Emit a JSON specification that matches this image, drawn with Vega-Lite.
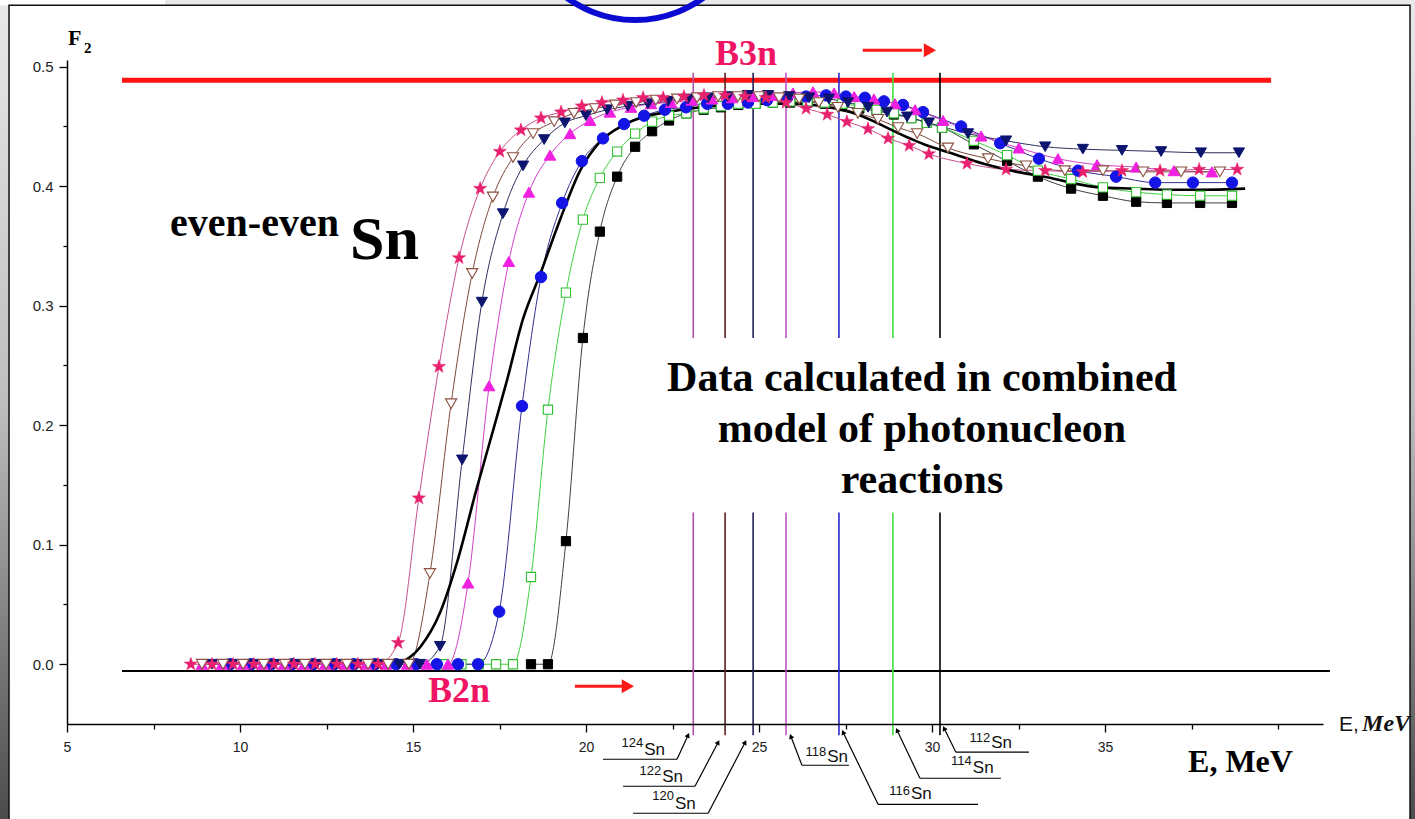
{
  "$schema": "https://vega.github.io/schema/vega-lite/v6.json",
  "width": 1256,
  "height": 664,
  "autosize": {"type": "none"},
  "padding": {"left": 67, "top": 60, "right": 92, "bottom": 95},
  "background": "#ffffff",
  "config": {
    "view": {"stroke": null},
    "axis": {"grid": false, "domainColor": "#000000", "domainWidth": 1.5, "tickColor": "#000000", "tickWidth": 1.3, "labelFont": "Liberation Sans", "labelFontSize": 14, "labelColor": "#222222", "title": null, "labelFlush": false, "labelOverlap": false}
  },
  "datasets": {
    "pts": [
      {"s":"112Sn","E":18.41,"F":0},{"s":"112Sn","E":18.90,"F":0},{"s":"112Sn","E":19.42,"F":0.103},{"s":"112Sn","E":19.91,"F":0.273},{"s":"112Sn","E":20.40,"F":0.362},{"s":"112Sn","E":20.90,"F":0.408},{"s":"112Sn","E":21.42,"F":0.433},{"s":"112Sn","E":21.91,"F":0.446},{"s":"112Sn","E":22.40,"F":0.455},{"s":"112Sn","E":22.90,"F":0.461},{"s":"112Sn","E":23.40,"F":0.464},{"s":"112Sn","E":23.90,"F":0.466},{"s":"112Sn","E":24.40,"F":0.468},{"s":"112Sn","E":24.90,"F":0.469},{"s":"112Sn","E":25.40,"F":0.470},{"s":"112Sn","E":25.90,"F":0.470},{"s":"112Sn","E":26.40,"F":0.470},{"s":"112Sn","E":26.90,"F":0.469},{"s":"112Sn","E":27.40,"F":0.467},{"s":"112Sn","E":27.90,"F":0.465},{"s":"112Sn","E":28.40,"F":0.463},{"s":"112Sn","E":28.90,"F":0.460},{"s":"112Sn","E":29.40,"F":0.457},{"s":"112Sn","E":29.85,"F":0.453},{"s":"112Sn","E":30.29,"F":0.449},{"s":"112Sn","E":31.21,"F":0.435},{"s":"112Sn","E":32.17,"F":0.421},{"s":"112Sn","E":33.06,"F":0.408},{"s":"112Sn","E":34.02,"F":0.398},{"s":"112Sn","E":34.94,"F":0.392},{"s":"112Sn","E":35.90,"F":0.387},{"s":"112Sn","E":36.79,"F":0.386},{"s":"112Sn","E":37.75,"F":0.386},{"s":"112Sn","E":38.67,"F":0.386},
      {"s":"114Sn","E":15.90,"F":0},{"s":"114Sn","E":16.40,"F":0},{"s":"114Sn","E":16.90,"F":0},{"s":"114Sn","E":17.40,"F":0},{"s":"114Sn","E":17.89,"F":0},{"s":"114Sn","E":18.41,"F":0.073},{"s":"114Sn","E":18.90,"F":0.213},{"s":"114Sn","E":19.42,"F":0.311},{"s":"114Sn","E":19.91,"F":0.372},{"s":"114Sn","E":20.40,"F":0.407},{"s":"114Sn","E":20.90,"F":0.429},{"s":"114Sn","E":21.42,"F":0.444},{"s":"114Sn","E":21.91,"F":0.454},{"s":"114Sn","E":22.40,"F":0.459},{"s":"114Sn","E":22.90,"F":0.461},{"s":"114Sn","E":23.40,"F":0.465},{"s":"114Sn","E":23.90,"F":0.467},{"s":"114Sn","E":24.40,"F":0.469},{"s":"114Sn","E":24.90,"F":0.469},{"s":"114Sn","E":25.40,"F":0.470},{"s":"114Sn","E":25.90,"F":0.471},{"s":"114Sn","E":26.40,"F":0.471},{"s":"114Sn","E":26.90,"F":0.470},{"s":"114Sn","E":27.40,"F":0.469},{"s":"114Sn","E":27.90,"F":0.467},{"s":"114Sn","E":28.40,"F":0.464},{"s":"114Sn","E":28.90,"F":0.461},{"s":"114Sn","E":29.40,"F":0.457},{"s":"114Sn","E":29.85,"F":0.453},{"s":"114Sn","E":30.29,"F":0.449},{"s":"114Sn","E":31.21,"F":0.438},{"s":"114Sn","E":32.17,"F":0.426},{"s":"114Sn","E":33.06,"F":0.413},{"s":"114Sn","E":34.02,"F":0.406},{"s":"114Sn","E":34.94,"F":0.399},{"s":"114Sn","E":35.90,"F":0.395},{"s":"114Sn","E":36.79,"F":0.393},{"s":"114Sn","E":37.75,"F":0.392},{"s":"114Sn","E":38.67,"F":0.392},
      {"s":"116Sn","E":9.71,"F":0},{"s":"116Sn","E":10.32,"F":0},{"s":"116Sn","E":10.90,"F":0},{"s":"116Sn","E":11.50,"F":0},{"s":"116Sn","E":12.11,"F":0},{"s":"116Sn","E":12.72,"F":0},{"s":"116Sn","E":13.29,"F":0},{"s":"116Sn","E":13.90,"F":0},{"s":"116Sn","E":14.51,"F":0},{"s":"116Sn","E":15.09,"F":0},{"s":"116Sn","E":15.69,"F":0},{"s":"116Sn","E":16.30,"F":0},{"s":"116Sn","E":16.88,"F":0},{"s":"116Sn","E":17.49,"F":0.044},{"s":"116Sn","E":18.15,"F":0.216},{"s":"116Sn","E":18.70,"F":0.324},{"s":"116Sn","E":19.31,"F":0.386},{"s":"116Sn","E":19.88,"F":0.421},{"s":"116Sn","E":20.49,"F":0.440},{"s":"116Sn","E":21.10,"F":0.452},{"s":"116Sn","E":21.68,"F":0.459},{"s":"116Sn","E":22.28,"F":0.464},{"s":"116Sn","E":22.89,"F":0.466},{"s":"116Sn","E":23.50,"F":0.469},{"s":"116Sn","E":24.10,"F":0.469},{"s":"116Sn","E":24.68,"F":0.470},{"s":"116Sn","E":25.23,"F":0.472},{"s":"116Sn","E":25.81,"F":0.474},{"s":"116Sn","E":26.36,"F":0.475},{"s":"116Sn","E":26.94,"F":0.476},{"s":"116Sn","E":27.51,"F":0.475},{"s":"116Sn","E":28.06,"F":0.474},{"s":"116Sn","E":28.61,"F":0.471},{"s":"116Sn","E":29.16,"F":0.468},{"s":"116Sn","E":29.74,"F":0.462},{"s":"116Sn","E":30.84,"F":0.450},{"s":"116Sn","E":31.97,"F":0.436},{"s":"116Sn","E":33.09,"F":0.423},{"s":"116Sn","E":34.22,"F":0.413},{"s":"116Sn","E":35.32,"F":0.408},{"s":"116Sn","E":36.45,"F":0.403},{"s":"116Sn","E":37.54,"F":0.403},{"s":"116Sn","E":38.67,"F":0.403},
      {"s":"118Sn","E":8.90,"F":0},{"s":"118Sn","E":9.48,"F":0},{"s":"118Sn","E":10.09,"F":0},{"s":"118Sn","E":10.66,"F":0},{"s":"118Sn","E":11.27,"F":0},{"s":"118Sn","E":11.85,"F":0},{"s":"118Sn","E":12.46,"F":0},{"s":"118Sn","E":13.03,"F":0},{"s":"118Sn","E":13.64,"F":0},{"s":"118Sn","E":14.22,"F":0},{"s":"118Sn","E":14.83,"F":0},{"s":"118Sn","E":15.40,"F":0},{"s":"118Sn","E":16.01,"F":0},{"s":"118Sn","E":16.59,"F":0.068},{"s":"118Sn","E":17.20,"F":0.233},{"s":"118Sn","E":17.77,"F":0.337},{"s":"118Sn","E":18.35,"F":0.395},{"s":"118Sn","E":18.96,"F":0.426},{"s":"118Sn","E":19.54,"F":0.444},{"s":"118Sn","E":20.12,"F":0.455},{"s":"118Sn","E":20.69,"F":0.462},{"s":"118Sn","E":21.30,"F":0.466},{"s":"118Sn","E":21.88,"F":0.469},{"s":"118Sn","E":22.46,"F":0.470},{"s":"118Sn","E":23.06,"F":0.472},{"s":"118Sn","E":23.64,"F":0.473},{"s":"118Sn","E":24.22,"F":0.474},{"s":"118Sn","E":24.83,"F":0.475},{"s":"118Sn","E":25.40,"F":0.476},{"s":"118Sn","E":25.98,"F":0.478},{"s":"118Sn","E":26.56,"F":0.479},{"s":"118Sn","E":27.17,"F":0.478},{"s":"118Sn","E":27.75,"F":0.475},{"s":"118Sn","E":28.32,"F":0.473},{"s":"118Sn","E":28.93,"F":0.469},{"s":"118Sn","E":29.51,"F":0.464},{"s":"118Sn","E":30.32,"F":0.455},{"s":"118Sn","E":31.42,"F":0.442},{"s":"118Sn","E":32.51,"F":0.432},{"s":"118Sn","E":33.64,"F":0.423},{"s":"118Sn","E":34.77,"F":0.418},{"s":"118Sn","E":35.90,"F":0.416},{"s":"118Sn","E":36.99,"F":0.413},{"s":"118Sn","E":38.09,"F":0.412},
      {"s":"120Sn","E":9.19,"F":0},{"s":"120Sn","E":9.77,"F":0},{"s":"120Sn","E":10.38,"F":0},{"s":"120Sn","E":10.98,"F":0},{"s":"120Sn","E":11.59,"F":0},{"s":"120Sn","E":12.20,"F":0},{"s":"120Sn","E":12.77,"F":0},{"s":"120Sn","E":13.38,"F":0},{"s":"120Sn","E":13.99,"F":0},{"s":"120Sn","E":14.60,"F":0},{"s":"120Sn","E":15.20,"F":0},{"s":"120Sn","E":15.78,"F":0.015},{"s":"120Sn","E":16.42,"F":0.171},{"s":"120Sn","E":16.99,"F":0.303},{"s":"120Sn","E":17.60,"F":0.377},{"s":"120Sn","E":18.18,"F":0.417},{"s":"120Sn","E":18.79,"F":0.439},{"s":"120Sn","E":19.39,"F":0.453},{"s":"120Sn","E":20.00,"F":0.459},{"s":"120Sn","E":20.61,"F":0.464},{"s":"120Sn","E":21.21,"F":0.467},{"s":"120Sn","E":21.79,"F":0.469},{"s":"120Sn","E":22.37,"F":0.471},{"s":"120Sn","E":22.95,"F":0.473},{"s":"120Sn","E":23.53,"F":0.474},{"s":"120Sn","E":24.10,"F":0.475},{"s":"120Sn","E":24.68,"F":0.476},{"s":"120Sn","E":25.26,"F":0.476},{"s":"120Sn","E":25.87,"F":0.475},{"s":"120Sn","E":26.45,"F":0.474},{"s":"120Sn","E":27.02,"F":0.473},{"s":"120Sn","E":27.57,"F":0.470},{"s":"120Sn","E":28.15,"F":0.466},{"s":"120Sn","E":28.70,"F":0.462},{"s":"120Sn","E":29.28,"F":0.458},{"s":"120Sn","E":29.91,"F":0.453},{"s":"120Sn","E":31.04,"F":0.444},{"s":"120Sn","E":32.14,"F":0.438},{"s":"120Sn","E":33.27,"F":0.433},{"s":"120Sn","E":34.36,"F":0.431},{"s":"120Sn","E":35.49,"F":0.430},{"s":"120Sn","E":36.62,"F":0.429},{"s":"120Sn","E":37.77,"F":0.428},{"s":"120Sn","E":38.87,"F":0.428},
      {"s":"122Sn","E":8.90,"F":0},{"s":"122Sn","E":9.51,"F":0},{"s":"122Sn","E":10.09,"F":0},{"s":"122Sn","E":10.69,"F":0},{"s":"122Sn","E":11.30,"F":0},{"s":"122Sn","E":11.88,"F":0},{"s":"122Sn","E":12.49,"F":0},{"s":"122Sn","E":13.09,"F":0},{"s":"122Sn","E":13.70,"F":0},{"s":"122Sn","E":14.28,"F":0},{"s":"122Sn","E":14.88,"F":0},{"s":"122Sn","E":15.49,"F":0.076},{"s":"122Sn","E":16.10,"F":0.218},{"s":"122Sn","E":16.71,"F":0.327},{"s":"122Sn","E":17.31,"F":0.391},{"s":"122Sn","E":17.89,"F":0.424},{"s":"122Sn","E":18.47,"F":0.444},{"s":"122Sn","E":19.08,"F":0.454},{"s":"122Sn","E":19.65,"F":0.461},{"s":"122Sn","E":20.26,"F":0.465},{"s":"122Sn","E":20.84,"F":0.468},{"s":"122Sn","E":21.45,"F":0.470},{"s":"122Sn","E":22.02,"F":0.472},{"s":"122Sn","E":22.63,"F":0.473},{"s":"122Sn","E":23.21,"F":0.474},{"s":"122Sn","E":23.82,"F":0.475},{"s":"122Sn","E":24.39,"F":0.475},{"s":"122Sn","E":25.00,"F":0.475},{"s":"122Sn","E":25.58,"F":0.474},{"s":"122Sn","E":26.16,"F":0.473},{"s":"122Sn","E":26.73,"F":0.470},{"s":"122Sn","E":27.28,"F":0.466},{"s":"122Sn","E":27.86,"F":0.461},{"s":"122Sn","E":28.44,"F":0.456},{"s":"122Sn","E":29.02,"F":0.449},{"s":"122Sn","E":29.57,"F":0.444},{"s":"122Sn","E":30.46,"F":0.432},{"s":"122Sn","E":31.62,"F":0.423},{"s":"122Sn","E":32.72,"F":0.417},{"s":"122Sn","E":33.84,"F":0.413},{"s":"122Sn","E":34.94,"F":0.413},{"s":"122Sn","E":36.10,"F":0.412},{"s":"122Sn","E":37.20,"F":0.412},{"s":"122Sn","E":38.32,"F":0.412},
      {"s":"124Sn","E":8.58,"F":0},{"s":"124Sn","E":9.19,"F":0},{"s":"124Sn","E":9.80,"F":0},{"s":"124Sn","E":10.40,"F":0},{"s":"124Sn","E":10.98,"F":0},{"s":"124Sn","E":11.56,"F":0},{"s":"124Sn","E":12.17,"F":0},{"s":"124Sn","E":12.80,"F":0},{"s":"124Sn","E":13.41,"F":0},{"s":"124Sn","E":13.99,"F":0},{"s":"124Sn","E":14.57,"F":0.018},{"s":"124Sn","E":15.17,"F":0.139},{"s":"124Sn","E":15.75,"F":0.249},{"s":"124Sn","E":16.33,"F":0.340},{"s":"124Sn","E":16.94,"F":0.398},{"s":"124Sn","E":17.51,"F":0.429},{"s":"124Sn","E":18.12,"F":0.447},{"s":"124Sn","E":18.70,"F":0.457},{"s":"124Sn","E":19.28,"F":0.462},{"s":"124Sn","E":19.88,"F":0.467},{"s":"124Sn","E":20.46,"F":0.470},{"s":"124Sn","E":21.07,"F":0.472},{"s":"124Sn","E":21.65,"F":0.474},{"s":"124Sn","E":22.23,"F":0.474},{"s":"124Sn","E":22.83,"F":0.475},{"s":"124Sn","E":23.41,"F":0.476},{"s":"124Sn","E":24.02,"F":0.476},{"s":"124Sn","E":24.60,"F":0.475},{"s":"124Sn","E":25.20,"F":0.474},{"s":"124Sn","E":25.78,"F":0.470},{"s":"124Sn","E":26.36,"F":0.465},{"s":"124Sn","E":26.97,"F":0.460},{"s":"124Sn","E":27.54,"F":0.454},{"s":"124Sn","E":28.15,"F":0.448},{"s":"124Sn","E":28.73,"F":0.440},{"s":"124Sn","E":29.34,"F":0.434},{"s":"124Sn","E":29.91,"F":0.427},{"s":"124Sn","E":31.01,"F":0.419},{"s":"124Sn","E":32.14,"F":0.414},{"s":"124Sn","E":33.27,"F":0.413},{"s":"124Sn","E":34.36,"F":0.412},{"s":"124Sn","E":35.49,"F":0.413},{"s":"124Sn","E":36.59,"F":0.413},{"s":"124Sn","E":37.72,"F":0.414},{"s":"124Sn","E":38.82,"F":0.414},
      {"s":"nat","E":14.57,"F":0},{"s":"nat","E":15.20,"F":0.014},{"s":"nat","E":15.78,"F":0.043},{"s":"nat","E":16.27,"F":0.085},{"s":"nat","E":16.85,"F":0.148},{"s":"nat","E":17.23,"F":0.187},{"s":"nat","E":17.72,"F":0.238},{"s":"nat","E":18.18,"F":0.289},{"s":"nat","E":18.67,"F":0.326},{"s":"nat","E":19.25,"F":0.372},{"s":"nat","E":19.83,"F":0.413},{"s":"nat","E":20.40,"F":0.437},{"s":"nat","E":21.07,"F":0.451},{"s":"nat","E":21.65,"F":0.458},{"s":"nat","E":22.34,"F":0.462},{"s":"nat","E":23.01,"F":0.465},{"s":"nat","E":24.74,"F":0.469},{"s":"nat","E":25.90,"F":0.469},{"s":"nat","E":27.63,"F":0.462},{"s":"nat","E":29.28,"F":0.441},{"s":"nat","E":29.86,"F":0.434},{"s":"nat","E":30.52,"F":0.428},{"s":"nat","E":31.47,"F":0.419},{"s":"nat","E":32.46,"F":0.412},{"s":"nat","E":33.41,"F":0.407},{"s":"nat","E":33.99,"F":0.403},{"s":"nat","E":34.86,"F":0.399},{"s":"nat","E":35.81,"F":0.398},{"s":"nat","E":36.79,"F":0.397},{"s":"nat","E":37.75,"F":0.397},{"s":"nat","E":39.05,"F":0.398}
    ]
  },
  "encoding": {
    "x": {"field": "E", "type": "quantitative", "scale": {"domain": [5, 41.3], "nice": false, "zero": false},
      "axis": {"zindex": 2, "values": [5,7.5,10,12.5,15,17.5,20,22.5,25,27.5,30,32.5,35,37.5,40],
        "labelExpr": "(datum.value % 5 == 0 && datum.value < 40) ? datum.label : ''",
        "tickSize": {"condition": {"test": "datum.value % 5 == 0 && datum.value < 40", "value": 8}, "value": 5},
        "labelPadding": 8}},
    "y": {"field": "F", "type": "quantitative", "scale": {"domain": [-0.05, 0.5056], "nice": false, "zero": false},
      "axis": {"zindex": 2, "values": [0,0.05,0.1,0.15,0.2,0.25,0.3,0.35,0.4,0.45,0.5],
        "labelExpr": "abs(round(datum.value*20)) % 2 == 0 ? format(datum.value, '.1f') : ''",
        "tickSize": {"condition": {"test": "abs(round(datum.value*20)) % 2 == 0", "value": 8}, "value": 4},
        "labelPadding": 6, "labelFontSize": 15}}
  },
  "layer": [
    {"data": {"values": [{"E": 2.9, "E2": 44.2, "F": 0.58, "F2": -0.15}]},
     "mark": {"type": "rect", "fill": {"gradient": "linear", "x1": 0, "y1": 0, "x2": 0, "y2": 1, "stops": [{"offset": 0, "color": "#ececec"}, {"offset": 0.5, "color": "#bdbdbd"}, {"offset": 1, "color": "#454545"}]}},
     "encoding": {"x2": {"field": "E2"}, "y2": {"field": "F2"}}},
    {"data": {"values": [{"E": 2.9, "E2": 7.83, "F": 0.58, "F2": 0.5515}]},
     "mark": {"type": "rect", "fill": "#ffffff"},
     "encoding": {"x2": {"field": "E2"}, "y2": {"field": "F2"}}},
    {"data": {"values": [{"E": 3.324, "E2": 43.815, "F": 0.5515, "F2": -0.16}]},
     "mark": {"type": "rect", "fill": "#ffffff", "stroke": "#111111", "strokeWidth": 1.5},
     "encoding": {"x2": {"field": "E2"}, "y2": {"field": "F2"}}},
    {"data": {"values": [{"E": 21.42, "F": 0.6357}]},
     "mark": {"type": "point", "shape": "circle", "size": 53400, "filled": false, "stroke": "#0a0ad2", "strokeWidth": 6, "opacity": 1}},
    {"data": {"values": [{"E": 6.59, "E2": 39.8, "F": 0.4887}]},
     "mark": {"type": "rule", "color": "#ff1212", "strokeWidth": 5},
     "encoding": {"x2": {"field": "E2"}}},
    {"data": {"values": [{"E": 6.59, "E2": 41.5, "F": -0.0056}]},
     "mark": {"type": "rule", "color": "#000000", "strokeWidth": 2},
     "encoding": {"x2": {"field": "E2"}}},
    {"data": {"values": [
      {"iso": "124Sn", "E": 23.1, "F": 0.495, "F2": 0.273}, {"iso": "124Sn", "E": 23.1, "F": 0.127, "F2": -0.0594},
      {"iso": "122Sn", "E": 24.02, "F": 0.495, "F2": 0.273}, {"iso": "122Sn", "E": 24.02, "F": 0.127, "F2": -0.0594},
      {"iso": "120Sn", "E": 24.83, "F": 0.495, "F2": 0.273}, {"iso": "120Sn", "E": 24.83, "F": 0.127, "F2": -0.0594},
      {"iso": "118Sn", "E": 25.78, "F": 0.495, "F2": 0.273}, {"iso": "118Sn", "E": 25.78, "F": 0.127, "F2": -0.0594},
      {"iso": "116Sn", "E": 27.31, "F": 0.495, "F2": 0.273}, {"iso": "116Sn", "E": 27.31, "F": 0.127, "F2": -0.0594},
      {"iso": "114Sn", "E": 28.87, "F": 0.495, "F2": 0.273}, {"iso": "114Sn", "E": 28.87, "F": 0.127, "F2": -0.0594},
      {"iso": "112Sn", "E": 30.23, "F": 0.495, "F2": 0.273}, {"iso": "112Sn", "E": 30.23, "F": 0.127, "F2": -0.0594}]},
     "mark": {"type": "rule", "strokeWidth": 1.6},
     "encoding": {"y2": {"field": "F2"},
       "stroke": {"field": "iso", "type": "nominal", "legend": null,
         "scale": {"domain": ["124Sn","122Sn","120Sn","118Sn","116Sn","114Sn","112Sn"], "range": ["#b050a8","#5a2020","#202058","#c050c0","#2828c8","#40e040","#000000"]}}}},
    {"data": {"name": "pts"}, "transform": [{"filter": "datum.s == '112Sn'"}],
     "mark": {"type": "line", "stroke": "#404040", "strokeWidth": 1, "interpolate": "monotone"}},
    {"data": {"name": "pts"}, "transform": [{"filter": "datum.s == '114Sn'"}],
     "mark": {"type": "line", "stroke": "#40d040", "strokeWidth": 1, "interpolate": "monotone"}},
    {"data": {"name": "pts"}, "transform": [{"filter": "datum.s == '116Sn'"}],
     "mark": {"type": "line", "stroke": "#303090", "strokeWidth": 1, "interpolate": "monotone"}},
    {"data": {"name": "pts"}, "transform": [{"filter": "datum.s == '118Sn'"}],
     "mark": {"type": "line", "stroke": "#d040c8", "strokeWidth": 1, "interpolate": "monotone"}},
    {"data": {"name": "pts"}, "transform": [{"filter": "datum.s == '120Sn'"}],
     "mark": {"type": "line", "stroke": "#303060", "strokeWidth": 1, "interpolate": "monotone"}},
    {"data": {"name": "pts"}, "transform": [{"filter": "datum.s == '122Sn'"}],
     "mark": {"type": "line", "stroke": "#7a4a3a", "strokeWidth": 1, "interpolate": "monotone"}},
    {"data": {"name": "pts"}, "transform": [{"filter": "datum.s == '124Sn'"}],
     "mark": {"type": "line", "stroke": "#c8508c", "strokeWidth": 1, "interpolate": "monotone"}},
    {"data": {"name": "pts"}, "transform": [{"filter": "datum.s == 'nat'"}],
     "mark": {"type": "line", "strokeWidth": 2.6, "stroke": "#000000", "interpolate": "monotone"}},
    {"data": {"name": "pts"}, "transform": [{"filter": "datum.s == '112Sn'"}],
     "mark": {"type": "point", "shape": "square", "size": 85, "filled": true, "fill": "#000000", "stroke": "#000000", "strokeWidth": 1, "opacity": 1}},
    {"data": {"name": "pts"}, "transform": [{"filter": "datum.s == '114Sn'"}],
     "mark": {"type": "point", "shape": "square", "size": 85, "filled": true, "fill": "#ffffff", "stroke": "#30c030", "strokeWidth": 1.1, "opacity": 1}},
    {"data": {"name": "pts"}, "transform": [{"filter": "datum.s == '116Sn'"}],
     "mark": {"type": "point", "shape": "circle", "size": 130, "filled": true, "fill": "#1414e6", "stroke": "#1414e6", "strokeWidth": 1, "opacity": 1}},
    {"data": {"name": "pts"}, "transform": [{"filter": "datum.s == '118Sn'"}],
     "mark": {"type": "point", "shape": "triangle-up", "size": 135, "filled": true, "fill": "#f020e0", "stroke": "#f020e0", "strokeWidth": 1, "opacity": 1}},
    {"data": {"name": "pts"}, "transform": [{"filter": "datum.s == '120Sn'"}],
     "mark": {"type": "point", "shape": "triangle-down", "size": 125, "filled": true, "fill": "#0c1470", "stroke": "#0c1470", "strokeWidth": 1, "opacity": 1}},
    {"data": {"name": "pts"}, "transform": [{"filter": "datum.s == '122Sn'"}],
     "mark": {"type": "point", "shape": "triangle-down", "size": 125, "filled": true, "fill": "#ffffff", "stroke": "#8a5040", "strokeWidth": 1.1, "opacity": 1}},
    {"data": {"name": "pts"}, "transform": [{"filter": "datum.s == '124Sn'"}],
     "mark": {"type": "point", "shape": "M0,-1L0.235,-0.324L0.951,-0.309L0.38,0.124L0.588,0.809L0,0.4L-0.588,0.809L-0.38,0.124L-0.951,-0.309L-0.235,-0.324Z", "size": 195, "filled": true, "fill": "#e8206e", "stroke": "#e8206e", "strokeWidth": 0.5, "opacity": 1}},
    {"data": {"values": [
      {"E": 20.49, "E2": 22.63, "F": -0.0795, "F2": -0.0795}, {"E": 22.63, "E2": 22.95, "F": -0.0795, "F2": -0.0594},
      {"E": 21.07, "E2": 23.15, "F": -0.1021, "F2": -0.1021}, {"E": 23.15, "E2": 23.82, "F": -0.1021, "F2": -0.0653},
      {"E": 21.36, "E2": 23.53, "F": -0.1247, "F2": -0.1247}, {"E": 23.53, "E2": 24.60, "F": -0.1247, "F2": -0.0653},
      {"E": 26.24, "E2": 27.60, "F": -0.0845, "F2": -0.0845}, {"E": 26.24, "E2": 25.92, "F": -0.0845, "F2": -0.0603},
      {"E": 28.44, "E2": 31.33, "F": -0.1172, "F2": -0.1172}, {"E": 28.44, "E2": 27.43, "F": -0.1172, "F2": -0.0569},
      {"E": 29.65, "E2": 31.99, "F": -0.0954, "F2": -0.0954}, {"E": 29.65, "E2": 28.99, "F": -0.0954, "F2": -0.0552},
      {"E": 30.69, "E2": 32.80, "F": -0.0736, "F2": -0.0736}, {"E": 30.69, "E2": 30.35, "F": -0.0736, "F2": -0.0536}]},
     "mark": {"type": "rule", "color": "#000000", "strokeWidth": 1.2},
     "encoding": {"x2": {"field": "E2"}, "y2": {"field": "F2"}}},
    {"data": {"values": [
      {"E": 22.95, "F": -0.0594, "ang": 25}, {"E": 23.82, "F": -0.0653, "ang": 28}, {"E": 24.60, "F": -0.0653, "ang": 28},
      {"E": 25.92, "F": -0.0603, "ang": -21}, {"E": 27.43, "F": -0.0569, "ang": -26}, {"E": 28.99, "F": -0.0552, "ang": -26}, {"E": 30.35, "F": -0.0536, "ang": -27}]},
     "mark": {"type": "point", "shape": "triangle-up", "size": 30, "filled": true, "color": "#000000", "opacity": 1},
     "encoding": {"angle": {"field": "ang", "type": "quantitative", "scale": null}}},
    {"data": {"values": [{"E": 28.0, "E2": 29.71, "F": 0.5138}, {"E": 19.68, "E2": 21.04, "F": -0.0184}]},
     "mark": {"type": "rule", "color": "#ff1a1a", "strokeWidth": 3},
     "encoding": {"x2": {"field": "E2"}}},
    {"data": {"values": [{"E": 29.94, "F": 0.5138}, {"E": 21.21, "F": -0.0184}]},
     "mark": {"type": "point", "shape": "triangle-right", "size": 200, "filled": true, "color": "#ff1a1a", "opacity": 1}},
    {"data": {"values": [
      {"t": "124", "E": 21.68, "F": -0.0695}, {"t": "122", "E": 22.20, "F": -0.0929}, {"t": "120", "E": 22.57, "F": -0.1138},
      {"t": "118", "E": 26.97, "F": -0.0770}, {"t": "116", "E": 29.39, "F": -0.1096}, {"t": "114", "E": 31.18, "F": -0.0845}, {"t": "112", "E": 31.71, "F": -0.0653}]},
     "mark": {"type": "text", "font": "Liberation Sans", "fontSize": 13, "align": "right", "baseline": "alphabetic", "color": "#111111", "dx": -1},
     "encoding": {"text": {"field": "t"}}},
    {"data": {"values": [
      {"t": "Sn", "E": 21.68, "F": -0.0762}, {"t": "Sn", "E": 22.20, "F": -0.0987}, {"t": "Sn", "E": 22.57, "F": -0.1213},
      {"t": "Sn", "E": 26.97, "F": -0.0820}, {"t": "Sn", "E": 29.39, "F": -0.1130}, {"t": "Sn", "E": 31.18, "F": -0.0912}, {"t": "Sn", "E": 31.71, "F": -0.0703}]},
     "mark": {"type": "text", "font": "Liberation Sans", "fontSize": 17, "align": "left", "baseline": "alphabetic", "color": "#111111"},
     "encoding": {"text": {"field": "t"}}},
    {"data": {"values": [
      {"t": "Data calculated in combined", "E": 29.71, "F": 0.2285},
      {"t": "model of photonucleon", "E": 29.71, "F": 0.1858},
      {"t": "reactions", "E": 29.71, "F": 0.1431}]},
     "mark": {"type": "text", "font": "Liberation Serif", "fontWeight": "bold", "fontSize": 42, "align": "center", "baseline": "alphabetic", "color": "#000000"},
     "encoding": {"text": {"field": "t"}}},
    {"data": {"values": [{"t": "even-even", "E": 7.98, "F": 0.3582}]},
     "mark": {"type": "text", "font": "Liberation Serif", "fontWeight": "bold", "fontSize": 40, "align": "left", "baseline": "alphabetic", "color": "#000000"},
     "encoding": {"text": {"field": "t"}}},
    {"data": {"values": [{"t": "Sn", "E": 13.18, "F": 0.3389}]},
     "mark": {"type": "text", "font": "Liberation Serif", "fontWeight": "bold", "fontSize": 62, "align": "left", "baseline": "alphabetic", "color": "#000000"},
     "encoding": {"text": {"field": "t"}}},
    {"data": {"values": [{"t": "B3n", "E": 23.73, "F": 0.501}, {"t": "B2n", "E": 15.43, "F": -0.0318}]},
     "mark": {"type": "text", "font": "Liberation Serif", "fontWeight": "bold", "fontSize": 36, "align": "left", "baseline": "alphabetic", "color": "#f01464"},
     "encoding": {"text": {"field": "t"}}},
    {"data": {"values": [{"t": "E, MeV", "E": 37.40, "F": -0.0904}]},
     "mark": {"type": "text", "font": "Liberation Serif", "fontWeight": "bold", "fontSize": 32, "align": "left", "baseline": "alphabetic", "color": "#000000"},
     "encoding": {"text": {"field": "t"}}},
    {"data": {"values": [{"t": "F", "E": 5.03, "F": 0.518}]},
     "mark": {"type": "text", "font": "Liberation Serif", "fontWeight": "bold", "fontSize": 22, "align": "left", "baseline": "alphabetic", "color": "#000000"},
     "encoding": {"text": {"field": "t"}}},
    {"data": {"values": [{"t": "2", "E": 5.49, "F": 0.5113}]},
     "mark": {"type": "text", "font": "Liberation Serif", "fontWeight": "bold", "fontSize": 15, "align": "left", "baseline": "alphabetic", "color": "#000000"},
     "encoding": {"text": {"field": "t"}}},
    {"data": {"values": [{"t": "E,", "E": 41.76, "F": -0.0561}]},
     "mark": {"type": "text", "font": "Liberation Sans", "fontSize": 21, "align": "left", "baseline": "alphabetic", "color": "#111111"},
     "encoding": {"text": {"field": "t"}}},
    {"data": {"values": [{"t": "MeV", "E": 42.43, "F": -0.0561}]},
     "mark": {"type": "text", "font": "Liberation Serif", "fontWeight": "bold", "fontStyle": "italic", "fontSize": 24, "align": "left", "baseline": "alphabetic", "color": "#111111"},
     "encoding": {"text": {"field": "t"}}}
  ]
}
